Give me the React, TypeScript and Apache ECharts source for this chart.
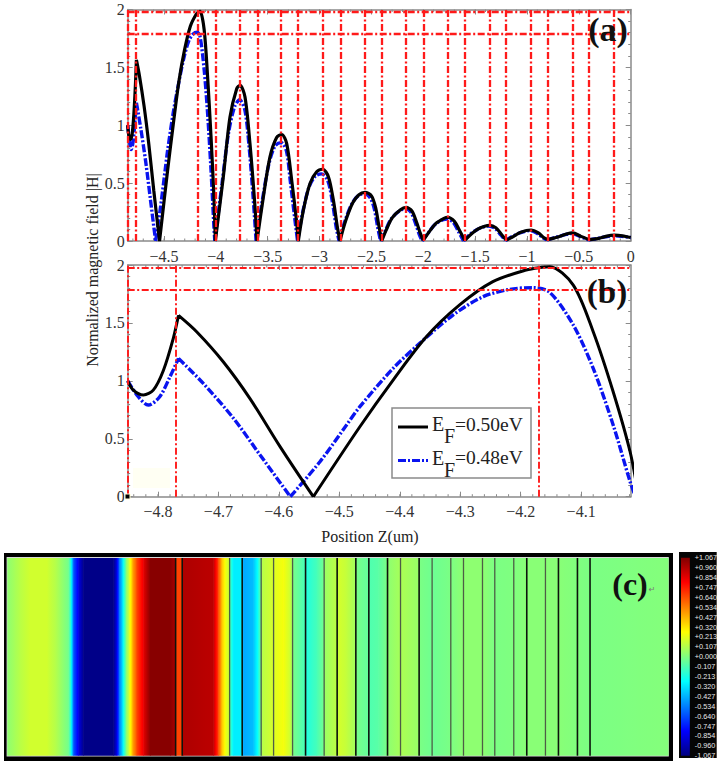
import React, { useEffect, useRef } from "react";
import * as echarts from "echarts";

const nameBlack = "EF=0.50eV";
const nameBlue = "EF=0.48eV";

// Position z (um) and |H| (a) and (b)
const zBlack = [-4.85,-4.8407,-4.824,-4.8077,-4.791,-4.7746,-4.766,-4.736,-4.692,-4.648,-4.598,-4.543,-4.466,-4.411,-4.356,-4.301,-4.246,-4.191,-4.165,-4.152,-4.113,-4.08,-4.047,-4.019,-4.005,
  -3.928,-3.864,-3.799,-3.767,-3.719,-3.671,-3.623,-3.603,-3.542,-3.478,-3.414,-3.365,-3.317,-3.269,-3.227,-3.205,
  -3.156,-3.092,-3.028,-2.97,-2.915,-2.867,-2.829,-2.803,-2.75,-2.68,-2.62,-2.562,-2.5,-2.46,-2.43,-2.401,
  -2.36,-2.3,-2.22,-2.166,-2.11,-2.06,-2.03,-2.0,-1.95,-1.88,-1.8,-1.765,-1.7,-1.65,-1.6,
  -1.55,-1.47,-1.4,-1.363,-1.3,-1.24,-1.2,-1.15,-1.06,-0.961,-0.89,-0.84,-0.8,-0.72,-0.62,-0.56,-0.48,-0.4,-0.32,-0.24,-0.158,-0.08,0];
const hBlack = [1.0,0.92,0.878,0.92,1.09,1.367,1.565,1.424,1.165,0.849,0.432,0,0.604,1.007,1.38,1.655,1.856,1.957,1.98,1.985,1.827,1.424,0.906,0.388,0,
  0.555,1.07,1.316,1.345,1.244,0.84,0.3,0,0.38,0.727,0.894,0.92,0.842,0.526,0.21,0,
  0.267,0.497,0.598,0.62,0.555,0.353,0.124,0,0.17,0.33,0.4,0.42,0.39,0.29,0.14,0,
  0.09,0.2,0.27,0.29,0.26,0.15,0.07,0.005,0.07,0.15,0.195,0.205,0.17,0.09,0.005,
  0.05,0.105,0.13,0.135,0.115,0.05,0.008,0.03,0.075,0.095,0.07,0.03,0.012,0.03,0.06,0.07,0.04,0.012,0.02,0.04,0.05,0.045,0.03];
const cuspsBlack = [-4.766,-4.543,-4.005,-3.603,-3.205,-2.803,-2.401,-2.0,-1.6,-1.2,-0.8,-0.4];
const zBlue = [-4.85,-4.8325,-4.816,-4.797,-4.78,-4.766,-4.725,-4.675,-4.631,-4.581,-4.532,-4.488,-4.466,-4.411,-4.367,-4.312,-4.262,-4.218,-4.18,-4.152,-4.113,-4.08,-4.047,-4.019,-4.01,
  -3.94,-3.88,-3.82,-3.77,-3.72,-3.68,-3.64,-3.612,-3.55,-3.49,-3.43,-3.37,-3.32,-3.28,-3.24,-3.212,
  -3.16,-3.1,-3.04,-2.98,-2.92,-2.875,-2.84,-2.812,-2.76,-2.69,-2.63,-2.57,-2.51,-2.47,-2.44,-2.412,
  -2.37,-2.31,-2.23,-2.175,-2.12,-2.07,-2.04,-2.012,-1.96,-1.89,-1.81,-1.77,-1.71,-1.66,-1.612,
  -1.56,-1.48,-1.41,-1.37,-1.31,-1.25,-1.21,-1.16,-1.07,-0.97,-0.9,-0.85,-0.81,-0.73,-0.63,-0.57,-0.49,-0.41,-0.33,-0.25,-0.165,-0.085,0];
const hBlue = [1.0,0.863,0.791,0.863,1.036,1.194,0.978,0.676,0.36,0,0.302,0.619,0.777,1.108,1.324,1.568,1.727,1.79,1.804,1.764,1.482,1.108,0.619,0.13,0,
  0.5,0.92,1.16,1.22,1.13,0.82,0.37,0,0.36,0.66,0.82,0.85,0.78,0.5,0.2,0,
  0.26,0.47,0.56,0.58,0.52,0.33,0.12,0,0.16,0.32,0.39,0.41,0.37,0.27,0.12,0,
  0.08,0.19,0.26,0.28,0.25,0.14,0.06,0,0.06,0.14,0.185,0.19,0.16,0.08,0,
  0.05,0.1,0.125,0.13,0.11,0.05,0.005,0.03,0.07,0.09,0.065,0.03,0.01,0.03,0.055,0.065,0.04,0.01,0.02,0.035,0.045,0.04,0.03];
const cuspsBlue = [-4.766,-4.581,-4.01,-3.612,-3.212,-2.812,-2.412,-2.012,-1.612,-1.21,-0.81,-0.41];

const refZA = [-4.85,-4.77,-4.165,-4.0,-3.767,-3.6,-3.365,-3.205,-2.97,-2.8,-2.562,-2.4,-2.166,-2.0,-1.765,-1.6,-1.363,-1.2,-0.961,-0.8,-0.56,-0.4,-0.158];
const refZB = [-4.85,-4.77,-4.165];
const refH = [1.98,1.795];

const ticksXA = [-4.5,-4,-3.5,-3,-2.5,-2,-1.5,-1,-0.5,0];
const ticksXB = [-4.8,-4.7,-4.6,-4.5,-4.4,-4.3,-4.2,-4.1];

// Field in panel (c): position along the strip and field value
const fieldPos = [0,12.7,22.7,39.4,49.4,61,63.4,66,71,76,106,109.4,112,115.4,118.7,122,125.4,129.4,136,142.7,162.7,167.7,169,174.4,175.7,206,211,214.4,217.7,221.7,223,226,234.7,236,246,251,253.7,255,266,267,276,282.7,285,286,297.7,299,309.4,316.7,317.7,329.4,330.7,
  332.7,339.4,348,349.4,361,362.7,371,379.4,381,392.7,394.4,411,412.7,426,442.7,456,475.4,487.7,506,519.4,551,582.7,661];
const fieldVal = [0.03,0.12,0.17,0.17,0.1,-0.03,-0.2,-0.6,-0.85,-1.05,-1.05,-0.85,-0.55,-0.3,0,0.2,0.45,0.65,0.85,1.05,1.05,0.98,0.66,0.66,0.97,0.94,0.65,0.4,0.25,0.15,-0.15,-0.3,-0.3,-0.45,-0.4,-0.22,-0.02,0.12,0.18,0.2,0.25,0.16,0.05,-0.02,-0.12,-0.2,-0.12,-0.02,0.06,0.13,0.15,
  0.17,0.14,0.07,-0.02,-0.06,-0.1,-0.08,-0.01,0.03,0.08,0.09,0.05,-0.01,-0.04,-0.01,0.03,0.03,-0.01,0,0.02,0.02,-0.01,0.01];
const ribbonPos = [168.4,175,222.4,235,254,266.4,285.4,298.4,317,330,348.7,361.7,380.4,393.4,412,425,443.7,456.4,475.4,487.7,506.7,519.7,538.4,551.4,570.4,583];
const ribbonDark = [1,1,0,1,0,0,0,1,0,1,1,1,1,0,1,0,0,0,0,0,0,1,0,1,1,1];

const barLabels = [1.067,0.96,0.854,0.747,0.64,0.534,0.427,0.32,0.213,0.107,0,-0.107,-0.213,-0.32,-0.427,-0.534,-0.64,-0.747,-0.854,-0.96,-1.067];

const clamp = (v: number) => Math.max(0, Math.min(1, v));
function jet(v: number) {
  const t = clamp((v + 1.067) / 2.134);
  const r = clamp(Math.min(4 * t - 1.5, -4 * t + 4.5));
  const g = clamp(Math.min(4 * t - 0.5, -4 * t + 3.5));
  const b = clamp(Math.min(4 * t + 0.5, -4 * t + 2.5));
  return `rgb(${Math.round(r * 255)},${Math.round(g * 255)},${Math.round(b * 255)})`;
}
function gradientStops(a: number, b: number) {
  const stops = [];
  for (let i = 0; i <= 8; i++) stops.push({ offset: i / 8, color: jet(a + ((b - a) * i) / 8) });
  return stops;
}
function stepList(from: number, to: number, step: number) {
  const out: number[] = [];
  const n = Math.round((to - from) / step);
  for (let i = 0; i <= n; i++) out.push(+(from + i * step).toFixed(3));
  return out;
}
// Pairs with a break after each cusp, so that smoothing rounds only the lobes
function lobes(xs: number[], ys: number[], cusps: number[]) {
  const out: any[] = [];
  xs.forEach((x, i) => {
    out.push([x, ys[i]]);
    if (cusps.includes(x)) {
      out.push([null, null]);
      out.push([x, ys[i]]);
    }
  });
  return out;
}

const GRAY = "#8a8a8a";
const SERIF = "'Liberation Serif'";
const REF_DASH = [7, 2.5, 2, 2.5];
const BLUE_DASH = [8, 2, 2, 2];
const BLUE = "#0a14f0";

const legendEntry = (name: string, y: number, blue: boolean) => [
  {
    type: "line", z: 20, shape: { x1: 398, y1: y + 3, x2: 428, y2: y + 3 },
    style: blue ? { stroke: BLUE, lineWidth: 3, lineDash: BLUE_DASH } : { stroke: "#000", lineWidth: 3 },
  },
  { type: "text", z: 20, x: 432, y, style: { text: name[0], font: `20px ${SERIF}`, fill: "#222", verticalAlign: "middle" } },
  { type: "text", z: 20, x: 444, y: y + 12, style: { text: name[1], font: `20px ${SERIF}`, fill: "#222", verticalAlign: "middle" } },
  { type: "text", z: 20, x: 455, y, style: { text: name.slice(2), font: `19.5px ${SERIF}`, fill: "#222", verticalAlign: "middle" } },
];

const App = () => {
  const ref = useRef<HTMLDivElement>(null);
  useEffect(() => {
    document.body.style.margin = "0";
    const chart = echarts.init(ref.current!, undefined, { renderer: "svg" });

    const grids = [
      { left: 127.7, top: 9.5, width: 503, height: 231.5 },
      { left: 127.7, top: 265, width: 503, height: 231.7 },
      { left: 7.3, top: 558, width: 660.7, height: 197.7 },
      { left: 681, top: 557.7, width: 9, height: 198 },
    ];

    const xPair = (gridIndex: number, min: number, max: number, ticks: number[]) => [
      {
        type: "value", gridIndex, min, max, position: "bottom", splitLine: { show: false },
        axisLine: { onZero: false, lineStyle: { color: GRAY, width: 1.5 } },
        axisTick: { inside: true, length: 5, customValues: ticks, lineStyle: { color: GRAY } },
        axisLabel: {
          customValues: ticks, margin: 7, color: "#333", fontFamily: SERIF, fontSize: 16,
          formatter: (v: number) => String(v).replace("-", "\u2212"),
        },
      },
      {
        type: "value", gridIndex, min, max, position: "top", splitLine: { show: false },
        axisLine: { onZero: false, lineStyle: { color: GRAY, width: 1.5 } },
        axisTick: { inside: true, length: 5, customValues: ticks, lineStyle: { color: GRAY } },
        axisLabel: { show: false },
      },
    ];
    const yPair = (gridIndex: number) => [
      {
        type: "value", gridIndex, min: 0, max: 2, interval: 0.5, position: "left", splitLine: { show: false },
        axisLine: { onZero: false, lineStyle: { color: GRAY, width: 1.5 } },
        axisTick: { inside: true, length: 5, lineStyle: { color: GRAY } },
        minorTick: { show: true, splitNumber: 5, length: 2.5, lineStyle: { color: GRAY } },
        axisLabel: { margin: 3, color: "#333", fontFamily: SERIF, fontSize: 16 },
      },
      {
        type: "value", gridIndex, min: 0, max: 2, interval: 0.5, position: "right", splitLine: { show: false },
        axisLine: { onZero: false, lineStyle: { color: GRAY, width: 1.5 } },
        axisTick: { inside: true, length: 5, lineStyle: { color: GRAY } },
        minorTick: { show: true, splitNumber: 5, length: 2.5, lineStyle: { color: GRAY } },
        axisLabel: { show: false },
      },
    ];

    const refSeries = (xAxisIndex: number, yAxisIndex: number, zs: number[], width: number) => ({
      type: "line", name: "ref", xAxisIndex, yAxisIndex, data: [], z: 1, silent: true,
      markLine: {
        silent: true, symbol: "none", animation: false, label: { show: false },
        emphasis: { disabled: true },
        lineStyle: { color: "#ff1a1a", type: REF_DASH, width, opacity: 1 },
        data: [...zs.map((v) => ({ xAxis: v })), ...refH.map((v) => ({ yAxis: v }))],
      },
    });
    const curve = (name: string, xAxisIndex: number, yAxisIndex: number, data: any[], blue: boolean, width: number) => ({
      type: "line", name, xAxisIndex, yAxisIndex, data, showSymbol: false, symbol: "none",
      smooth: 0.3, connectNulls: false, z: blue ? 2 : 3, clip: true,
      lineStyle: blue ? { color: BLUE, width, type: BLUE_DASH } : { color: "#000", width },
      itemStyle: { color: blue ? BLUE : "#000" },
    });
    const minorSeries = (xAxisIndex: number, yAxisIndex: number, values: number[]) => ({
      type: "custom", name: "minor", xAxisIndex, yAxisIndex, silent: true, z: 1, clip: false,
      data: values.map((v) => [v]),
      encode: { x: 0 },
      renderItem: (_p: any, api: any) => {
        const x = api.coord([api.value(0), 0])[0];
        const b = api.coord([api.value(0), 0])[1];
        const t = api.coord([api.value(0), 2])[1];
        return {
          type: "group",
          children: [
            { type: "line", shape: { x1: x, y1: b, x2: x, y2: b - 2.5 }, style: { stroke: GRAY, lineWidth: 1 } },
            { type: "line", shape: { x1: x, y1: t, x2: x, y2: t + 2.5 }, style: { stroke: GRAY, lineWidth: 1 } },
          ],
        };
      },
    });

    const fieldData = fieldPos.slice(0, -1).map((p, i) => [p, fieldVal[i], fieldPos[i + 1], fieldVal[i + 1]]);
    const blackData = lobes(zBlack, hBlack, cuspsBlack);
    const blueData = lobes(zBlue, hBlue, cuspsBlue);

    chart.setOption({
      animation: false,
      backgroundColor: "#fff",
      grid: grids,
      xAxis: [
        ...xPair(0, -4.85, 0, ticksXA),
        ...xPair(1, -4.85, -4.018, ticksXB),
        { type: "value", gridIndex: 2, min: 0, max: 661, show: false },
        { type: "value", gridIndex: 3, min: 0, max: 1, show: false },
      ],
      yAxis: [
        ...yPair(0),
        ...yPair(1),
        { type: "value", gridIndex: 2, min: 0, max: 1, show: false },
        {
          type: "value", gridIndex: 3, min: -1.067, max: 1.067, position: "right",
          splitLine: { show: false }, axisLine: { show: false }, axisTick: { show: false },
          axisLabel: {
            customValues: barLabels, margin: 5, color: "#e8e8e8", fontFamily: "'Liberation Sans'", fontSize: 7.2,
            formatter: (v: number) => (v >= 0 ? "+" : "-") + Math.abs(v).toFixed(3),
          },
        },
      ],
      series: [
        refSeries(0, 0, refZA, 2.3),
        minorSeries(0, 0, stepList(-4.8, -0.1, 0.1)),
        curve(nameBlue, 0, 0, blueData, true, 3.4),
        curve(nameBlack, 0, 0, blackData, false, 3.2),
        refSeries(2, 2, refZB, 1.9),
        minorSeries(2, 2, stepList(-4.84, -4.02, 0.02)),
        curve(nameBlue, 2, 2, blueData, true, 3.4),
        curve(nameBlack, 2, 2, blackData, false, 3),
        {
          type: "custom", name: "field", xAxisIndex: 4, yAxisIndex: 4, silent: true, z: 2,
          data: fieldData, encode: { x: [0, 2] },
          renderItem: (_p: any, api: any) => {
            const a = api.coord([api.value(0), 1]);
            const b = api.coord([api.value(2), 0]);
            return {
              type: "rect",
              shape: { x: a[0], y: a[1], width: b[0] - a[0] + 0.6, height: b[1] - a[1] },
              style: { fill: new echarts.graphic.LinearGradient(0, 0, 1, 0, gradientStops(api.value(1), api.value(3))) },
            };
          },
        },
        {
          type: "custom", name: "ribbons", xAxisIndex: 4, yAxisIndex: 4, silent: true, z: 3,
          data: ribbonPos.map((p, i) => [p, ribbonDark[i]]), encode: { x: 0 },
          renderItem: (_p: any, api: any) => {
            const a = api.coord([api.value(0), 1]);
            const b = api.coord([api.value(0), 0]);
            const dark = api.value(1) === 1;
            return {
              type: "line",
              shape: { x1: a[0], y1: a[1], x2: b[0], y2: b[1] },
              style: { stroke: dark ? "#0c140c" : "#4e5e46", lineWidth: dark ? 1.6 : 1.3 },
            };
          },
        },
        {
          type: "custom", name: "colorbar", xAxisIndex: 5, yAxisIndex: 5, silent: true, z: 2,
          data: [[-1.067, 1.067]], encode: { y: [0, 1] },
          renderItem: (_p: any, api: any) => {
            const t = api.coord([0, api.value(1)]);
            const b = api.coord([1, api.value(0)]);
            return {
              type: "rect",
              shape: { x: t[0], y: t[1], width: b[0] - t[0], height: b[1] - t[1] },
              style: { fill: new echarts.graphic.LinearGradient(0, 1, 0, 0, gradientStops(api.value(0), api.value(1))) },
            };
          },
        },
      ],
      graphic: [
        { type: "rect", z: -2, shape: { x: 133, y: 468, width: 37, height: 20 }, style: { fill: "#fffff3" } },
        { type: "rect", z: -2, shape: { x: 4, y: 553, width: 669, height: 208 }, style: { fill: "#000" } },
        { type: "rect", z: -1, shape: { x: 6.6, y: 557, width: 662.2, height: 199.6 }, style: { fill: "#d8d8d8" } },
        { type: "rect", z: -2, shape: { x: 679, y: 552, width: 37.7, height: 206 }, style: { fill: "#050505" } },
        { type: "rect", z: 20, shape: { x: 125, y: 494, width: 5, height: 5 }, style: { fill: "#000", stroke: "#fffbd0", lineWidth: 1 } },
        { type: "rect", z: 19, shape: { x: 392, y: 408, width: 139, height: 70 }, style: { fill: "#fff", stroke: GRAY, lineWidth: 1.5 } },
        ...legendEntry(nameBlack, 424, false),
        ...legendEntry(nameBlue, 457.5, true),
        { type: "text", z: 20, x: 92, y: 270, rotation: Math.PI / 2, style: { text: "Normalized magnetic field |H|", font: `16px ${SERIF}`, fill: "#222", align: "center", verticalAlign: "middle" } },
        { type: "text", z: 20, x: 370, y: 536, style: { text: "Position Z(um)", font: `16px ${SERIF}`, fill: "#222", align: "center", verticalAlign: "middle" } },
        { type: "text", z: 20, x: 608, y: 29, style: { text: "(a)", font: `bold 34px ${SERIF}`, fill: "#111", align: "center", verticalAlign: "middle" } },
        { type: "text", z: 20, x: 607, y: 292, style: { text: "(b)", font: `bold 33px ${SERIF}`, fill: "#111", align: "center", verticalAlign: "middle" } },
        { type: "text", z: 20, x: 630, y: 584, style: { text: "(c)", font: `bold 32px ${SERIF}`, fill: "#111", align: "center", verticalAlign: "middle" } },
        { type: "text", z: 20, x: 652, y: 589, style: { text: "\u21B5", font: "8px 'DejaVu Sans'", fill: "#777", align: "center", verticalAlign: "middle" } },
      ],
    });
    return () => chart.dispose();
  }, []);
  return <div ref={ref} style={{ width: 720, height: 765 }} />;
};

export default App;
